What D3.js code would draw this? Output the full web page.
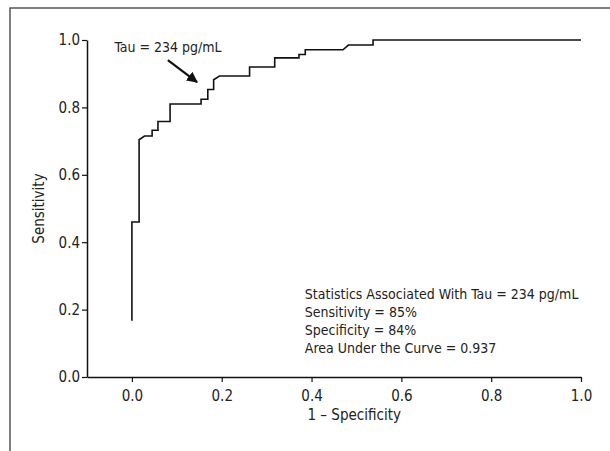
<!DOCTYPE html>
<html>
<head>
<meta charset="utf-8">
<script src="https://cdn.jsdelivr.net/npm/d3@7"></script>
<style>
  body { margin: 0; background: #fff; }
  text { font-family: "Liberation Sans Narrow", "DejaVu Sans", sans-serif; font-stretch: condensed; fill: #222; }
</style>
</head>
<body>
<div id="chart"></div>
<script>
// ROC curve, step points (1 - specificity, sensitivity)
const fpr  = [0.0, 0.0, 0.016, 0.016, 0.028, 0.045, 0.045, 0.058, 0.058, 0.085, 0.085, 0.154, 0.154, 0.169, 0.169, 0.182, 0.182, 0.195, 0.262, 0.262, 0.318, 0.318, 0.372, 0.372, 0.386, 0.386, 0.47, 0.482, 0.537, 0.537, 1.0]
const sens = [0.167, 0.46, 0.46, 0.704, 0.715, 0.715, 0.732, 0.732, 0.758, 0.758, 0.81, 0.81, 0.824, 0.824, 0.853, 0.853, 0.882, 0.893, 0.893, 0.92, 0.92, 0.947, 0.947, 0.957, 0.957, 0.971, 0.971, 0.985, 0.985, 1.0, 1.0]

const xTicks = [0, 0.2, 0.4, 0.6, 0.8, 1.0]
const yTicks = [0, 0.2, 0.4, 0.6, 0.8, 1.0]

const statsLines = [
    "Statistics Associated With Tau = 234 pg/mL",
    "Sensitivity = 85%",
    "Specificity = 84%",
    "Area Under the Curve = 0.937"
]
const cutLabel = "Tau = 234 pg/mL"
const arrowFrom = [0.08, 0.94]
const arrowTo = [0.145, 0.875]

const width = 610, height = 451

const svg = d3.select("#chart").append("svg")
    .attr("width", width).attr("height", height)

// panel frame (top + left only)
svg.append("path")
    .attr("d", "M10,451 L10,8 L610,8")
    .attr("fill", "none")
    .attr("stroke", "#555")
    .attr("stroke-width", 1.5)

const x = d3.scaleLinear().domain([-0.1, 1.0]).range([87, 581])
const y = d3.scaleLinear().domain([0, 1]).range([377, 40])

const xAxis = svg.append("g")
    .attr("transform", "translate(0," + y(0) + ")")
    .call(d3.axisBottom(x).tickValues(xTicks).tickFormat(d3.format(".1f")).tickSize(5).tickSizeOuter(0))
const yAxis = svg.append("g")
    .attr("transform", "translate(" + x(-0.1) + ",0)")
    .call(d3.axisLeft(y).tickValues(yTicks).tickFormat(d3.format(".1f")).tickSize(5).tickSizeOuter(0))

for (const ax of [xAxis, yAxis]) {
    ax.select(".domain").attr("stroke", "#111").attr("stroke-width", 1.5)
    ax.selectAll(".tick line").attr("stroke", "#111").attr("stroke-width", 1.2)
    ax.selectAll(".tick text").style("font-size", "15px").attr("fill", "#222")
}
xAxis.selectAll(".tick text").attr("dy", "1.05em")
yAxis.selectAll(".tick text").attr("x", -7)

svg.append("text")
    .attr("x", x(0.495)).attr("y", 420)
    .attr("text-anchor", "middle")
    .style("font-size", "15px")
    .text("1 – Specificity")

svg.append("text")
    .attr("transform", "translate(44," + y(0.5) + ")rotate(-90)")
    .attr("text-anchor", "middle")
    .style("font-size", "15px")
    .text("Sensitivity")

// curve
const pts = fpr.map((d, i) => [d, sens[i]])
svg.append("path")
    .datum(pts)
    .attr("d", d3.line().x(d => x(d[0])).y(d => y(d[1])))
    .attr("fill", "none")
    .attr("stroke", "#111")
    .attr("stroke-width", 1.6)

// arrow annotation
svg.append("defs").append("marker")
    .attr("id", "head")
    .attr("viewBox", "0 0 10 10")
    .attr("refX", 9).attr("refY", 5)
    .attr("markerWidth", 5).attr("markerHeight", 5)
    .attr("orient", "auto")
    .append("path")
    .attr("d", "M0,0 L10,5 L0,10 Z")
    .attr("fill", "#111")

svg.append("line")
    .attr("x1", x(arrowFrom[0])).attr("y1", y(arrowFrom[1]))
    .attr("x2", x(arrowTo[0])).attr("y2", y(arrowTo[1]))
    .attr("stroke", "#111")
    .attr("stroke-width", 2.2)
    .attr("marker-end", "url(#head)")

svg.append("text")
    .attr("x", x(-0.039)).attr("y", y(0.964))
    .style("font-size", "14px")
    .text(cutLabel)

// stats text
svg.selectAll(".stat")
    .data(statsLines)
    .enter().append("text")
    .attr("class", "stat")
    .attr("x", x(0.385))
    .attr("y", (d, i) => 299 + i * 18)
    .style("font-size", "14px")
    .text(d => d)
</script>
</body>
</html>
